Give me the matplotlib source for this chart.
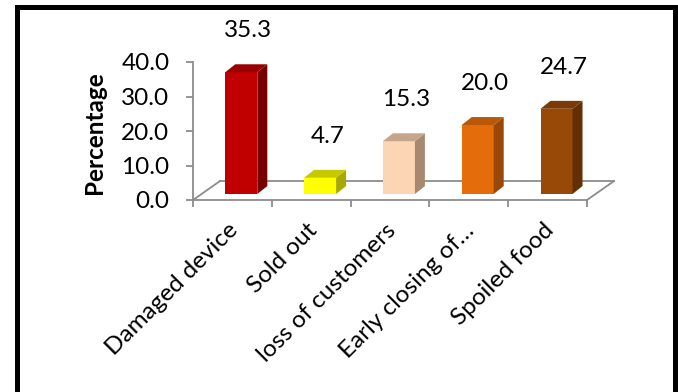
import matplotlib
matplotlib.use("Agg")
import matplotlib.pyplot as plt
import matplotlib.transforms as mtransforms
from matplotlib.patches import Polygon
from matplotlib.lines import Line2D

categories = ["Damaged device", "Sold out", "loss of customers",
              "Early closing of\u2026", "Spoiled food"]
values = [35.3, 4.7, 15.3, 20.0, 24.7]
front_colors = ["#C00000", "#FFFF00", "#FCD5B5", "#E46C0A", "#984807"]
side_colors = ["#760000", "#A8A800", "#A8896F", "#9A4808", "#633005"]
top_colors = ["#9A0000", "#C8C800", "#C6A68A", "#B85808", "#7A3A06"]
yticks = [0, 10, 20, 30, 40]

FONT = "Lato"
FS = 17.5
W, H = 678, 392
GRAY = "#8C8C8C"

fig = plt.figure(figsize=(W / 100, H / 100), dpi=100)
ax = fig.add_axes([193 / W, 1 - 200 / H, 394 / W, 138 / H])
ax.set_xlim(-0.5, 4.5)
ax.set_ylim(0, 40)

for s in ("top", "right"):
    ax.spines[s].set_visible(False)
for s in ("left", "bottom"):
    ax.spines[s].set_color(GRAY)
    ax.spines[s].set_linewidth(1.3)

# value axis
ax.set_yticks(yticks)
ax.set_yticklabels([f"{t:.1f}" for t in yticks], fontfamily=FONT, fontsize=FS)
ax.tick_params(axis="y", length=5, width=1.3, color=GRAY, pad=12)

# category axis: boundary ticks, labels at centres
ax.set_xticks([i - 0.5 for i in range(len(categories) + 1)])
ax.set_xticklabels([])
ax.tick_params(axis="x", which="major", length=5, width=1.3, color=GRAY)
ax.set_xticks(range(len(categories)), minor=True)
ax.set_xticklabels(categories, minor=True, rotation=45, ha="right",
                   va="top", rotation_mode="anchor",
                   fontfamily=FONT, fontsize=FS)
ax.tick_params(axis="x", which="minor", length=0, pad=14)
shift = mtransforms.ScaledTranslation(-5 / 100, 0, fig.dpi_scale_trans)
for lab in ax.get_xticklabels(minor=True):
    lab.set_transform(lab.get_transform() + shift)

# 3-D floor
FX, FY = 0.343, 5.5
floor = [((-0.5, -0.5 + FX), (0, FY)),
         ((-0.5 + FX, 4.5 + FX), (FY, FY)),
         ((4.5, 4.5 + FX), (0, FY))]
for xs, ys in floor:
    ax.add_line(Line2D(xs, ys, color=GRAY, lw=1.3, clip_on=False, zorder=1))

# 3-D bars
BW, DX, DY = 0.406, 0.127, 2.3
X_OFF, Y0 = -0.09, 1.74
for i, v in enumerate(values):
    x0 = i + X_OFF
    x1 = x0 + BW
    y1 = Y0 + v
    ax.add_patch(Polygon([(x0, Y0), (x1, Y0), (x1, y1), (x0, y1)],
                         closed=True, fc=front_colors[i], ec="none",
                         clip_on=False, zorder=3))
    ax.add_patch(Polygon([(x1, Y0), (x1 + DX, Y0 + DY), (x1 + DX, y1 + DY), (x1, y1)],
                         closed=True, fc=side_colors[i], ec="none",
                         clip_on=False, zorder=3))
    ax.add_patch(Polygon([(x0, y1), (x0 + DX, y1 + DY), (x1 + DX, y1 + DY), (x1, y1)],
                         closed=True, fc=top_colors[i], ec="none",
                         clip_on=False, zorder=3))
    ax.text(x0 + BW / 2 + 0.09, y1 + 12, f"{v:.1f}", ha="center", va="center",
            fontfamily=FONT, fontsize=FS, clip_on=False, zorder=4)

fig.text(95 / W, 1 - 133 / H, "Percentage", rotation=90, ha="center",
         va="center", fontfamily=FONT, fontsize=FS, fontweight="bold")

# frame around the chart
lw = 3.6
fig.add_artist(Line2D([16.5 / W, 16.5 / W], [-0.05, 1 - 7 / H], color="black",
                      lw=lw, transform=fig.transFigure))
fig.add_artist(Line2D([16.5 / W, 674.5 / W], [1 - 7 / H, 1 - 7 / H], color="black",
                      lw=lw, transform=fig.transFigure, solid_capstyle="projecting"))
fig.add_artist(Line2D([674.5 / W, 674.5 / W], [-0.05, 1 - 7 / H], color="black",
                      lw=lw, transform=fig.transFigure))

fig.savefig("out.png", dpi=100)
